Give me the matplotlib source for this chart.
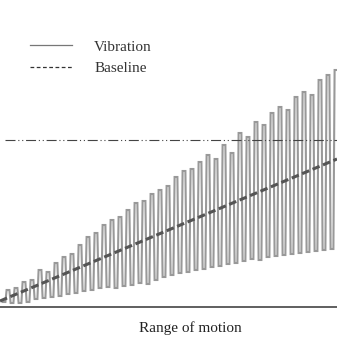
import matplotlib
matplotlib.use("Agg")
import matplotlib.pyplot as plt
from matplotlib.lines import Line2D

# ---- data (pixel-like units, x 0..337, y 0..307) ----
peak_x = [8, 16, 24, 32, 40, 48, 56, 64, 72, 80, 88, 96, 104, 112, 120, 128, 136, 144,
          152, 160, 168, 176, 184, 192, 200, 208, 216, 224, 232, 240, 248, 256, 264, 272,
          280, 288, 296, 304, 312, 320, 328, 336]
peak_y = [17, 19, 25, 27, 37, 35, 44, 50, 53, 62, 70, 74, 82, 87, 90, 97, 104, 106,
          113, 117, 121, 130, 136, 138, 145, 152, 148, 162, 154, 174, 170, 185, 182, 194,
          200, 197, 210, 215, 212, 227, 232, 237]
trough_x = [4, 12, 20, 28, 36, 44, 52, 60, 68, 76, 84, 92, 100, 108, 116, 124, 132, 140,
            148, 156, 164, 172, 180, 188, 196, 204, 212, 220, 228, 236, 244, 252, 260, 268,
            276, 284, 292, 300, 308, 316, 324, 332]
trough_y = [5, 4, 4, 5, 8, 9, 10, 11, 13, 14, 16, 17, 19, 20, 19, 21, 22, 24,
            23, 27, 30, 32, 34, 35, 37, 38, 40, 41, 43, 44, 46, 48, 47, 50,
            51, 52, 53, 54, 55, 56, 57, 58]
baseline_x = [0, 337]
baseline_y = [6, 148]
threshold_x = [5, 337]
threshold_y = [167, 167]

legend_labels = ["Vibration", "Baseline"]
x_label = "Range of motion"

# build the vibration polyline: flat-topped pulses between troughs and peaks
half = 1.4
vib_x, vib_y = [], []
for tx, ty, px, py in zip(trough_x, trough_y, peak_x, peak_y):
    vib_x += [tx - half, tx + half, px - half, px + half]
    vib_y += [ty, ty, py, py]

fig = plt.figure(figsize=(3.37, 3.37), dpi=100)
ax = fig.add_axes([0, 30 / 337, 1, 307 / 337])
ax.set_xlim(0, 337)
ax.set_ylim(0, 307)

ax.plot(vib_x, vib_y, color="#999999", lw=1.5, solid_joinstyle="miter", zorder=2)
ax.plot(baseline_x, baseline_y, color="#555555", lw=2.2, ls=(0, (2.5, 1.2)), zorder=3)
ax.plot(threshold_x, threshold_y, color="#444444", lw=0.8,
        ls=(0, (9, 2.5, 1, 2.5, 1, 2.5)), zorder=3)

for s in ["top", "left", "right"]:
    ax.spines[s].set_visible(False)
ax.spines["bottom"].set_color("#444444")
ax.spines["bottom"].set_linewidth(1.2)
ax.set_xticks([])
ax.set_yticks([])

ax.set_xlabel(x_label, fontsize=11, family="Liberation Serif", color="#222222")
ax.xaxis.set_label_coords(190 / 337, -21 / 307)
ax.xaxis.label.set_verticalalignment("center")

handles = [Line2D([], [], color="#777777", lw=0.9),
           Line2D([], [], color="#333333", lw=0.9, ls=(0, (3, 2)))]
leg = ax.legend(handles, legend_labels, loc="upper left",
                bbox_to_anchor=(30 / 337, 1 - 40 / 307), frameon=False,
                borderpad=0, borderaxespad=0, handlelength=2.75, handletextpad=1.45,
                labelspacing=0.5, prop={"family": "Liberation Serif", "size": 11})
for t in leg.get_texts():
    t.set_color("#333333")

fig.savefig("out.png", dpi=100)
